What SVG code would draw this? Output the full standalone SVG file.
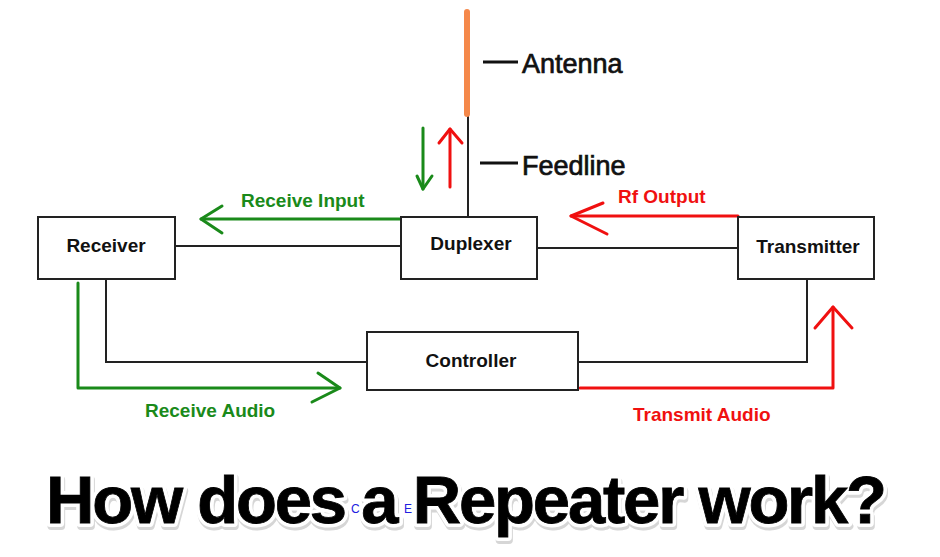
<svg xmlns="http://www.w3.org/2000/svg" width="940" height="557" viewBox="0 0 940 557">
<style>
.box{fill:#fff;stroke:#222;stroke-width:2}
.lbl{font-family:"Liberation Sans",Arial,sans-serif;font-weight:bold;font-size:19px;fill:#111;text-anchor:middle}
.wire{fill:none;stroke:#222;stroke-width:2}
.g{fill:none;stroke:#1a8a1a;stroke-width:3;stroke-linecap:round;stroke-linejoin:round}
.r{fill:none;stroke:#f01010;stroke-width:3;stroke-linecap:round;stroke-linejoin:round}
.gt{font-family:"Liberation Sans",Arial,sans-serif;font-weight:bold;font-size:19px;fill:#1a8a1a}
.rt{font-family:"Liberation Sans",Arial,sans-serif;font-weight:bold;font-size:19px;fill:#f01010}
.big{font-family:"Liberation Sans",Arial,sans-serif;font-size:27px;fill:#111;stroke:#111;stroke-width:0.7}
.title{font-family:"Liberation Sans",Arial,sans-serif;font-weight:bold;font-size:67px}
.blue{font-family:"Liberation Sans",Arial,sans-serif;font-size:12px;fill:#2020e0}
</style>
<rect width="940" height="557" fill="#fff"/>
<g id="connectors">
  <line class="wire" x1="468" y1="115" x2="468" y2="217"/>
  <line class="wire" x1="175" y1="246" x2="401" y2="246"/>
  <line class="wire" x1="537" y1="248" x2="738" y2="248"/>
  <polyline class="wire" points="106,279 106,362 367,362"/>
  <polyline class="wire" points="807,279 807,362 578,362"/>
  <line x1="483" y1="62" x2="518" y2="62" stroke="#111" stroke-width="3"/>
  <line x1="480" y1="163" x2="518" y2="163" stroke="#111" stroke-width="3"/>
  <polyline class="g" points="423,128 423,189"/>
  <polyline class="g" points="417,176 423,189 432,176"/>
  <polyline class="r" points="450,187 450,129"/>
  <polyline class="r" points="439,143 450,129 462,143"/>
  <polyline class="g" points="401,219 201,219"/>
  <polyline class="g" points="222,206 201,219 222,233"/>
  <polyline class="r" points="738,216 571,216"/>
  <polyline class="r" points="603,203 571,216 607,234"/>
  <polyline class="g" points="78,283 78,388 340,388"/>
  <polyline class="g" points="318,373 340,388 312,402"/>
  <polyline class="r" points="580,388 833,388 833,307"/>
  <polyline class="r" points="815,328 833,307 852,328"/>
</g>
<g id="antenna">
  <line x1="467" y1="12" x2="467" y2="114" stroke="#f5884a" stroke-width="6" stroke-linecap="round"/>
</g>
<g id="labels">
  <text class="big" x="522" y="73">Antenna</text>
  <text class="big" x="522" y="175">Feedline</text>
  <text class="gt" x="241" y="207">Receive Input</text>
  <text class="rt" x="618" y="203">Rf Output</text>
  <text class="gt" x="145" y="417">Receive Audio</text>
  <text class="rt" x="633" y="421">Transmit Audio</text>
</g>
<g id="receiver">
  <rect class="box" x="38" y="217" width="137" height="62"/>
  <text class="lbl" x="106" y="252">Receiver</text>
</g>
<g id="duplexer">
  <rect class="box" x="401" y="217" width="136" height="62"/>
  <text class="lbl" x="471" y="250">Duplexer</text>
</g>
<g id="transmitter">
  <rect class="box" x="738" y="217" width="136" height="62"/>
  <text class="lbl" x="808" y="253">Transmitter</text>
</g>
<g id="controller">
  <rect class="box" x="367" y="332" width="211" height="58"/>
  <text class="lbl" x="471" y="367">Controller</text>
</g>
<g id="title">
  <text class="title" x="47" y="526" textLength="841" lengthAdjust="spacing" fill="#999" stroke="#bbb" stroke-width="8" stroke-linejoin="round" opacity="0.6">How does a Repeater work?</text>
  <text class="title" x="46" y="523" textLength="841" lengthAdjust="spacing" fill="#fff" stroke="#fff" stroke-width="8" stroke-linejoin="round">How does a Repeater work?</text>
  <text class="title" x="46" y="523" textLength="841" lengthAdjust="spacing" fill="#000" stroke="#000" stroke-width="0.8">How does a Repeater work?</text>
  <text class="blue" x="351" y="513">C</text>
  <text class="blue" x="404" y="513">E</text>
</g>
</svg>
